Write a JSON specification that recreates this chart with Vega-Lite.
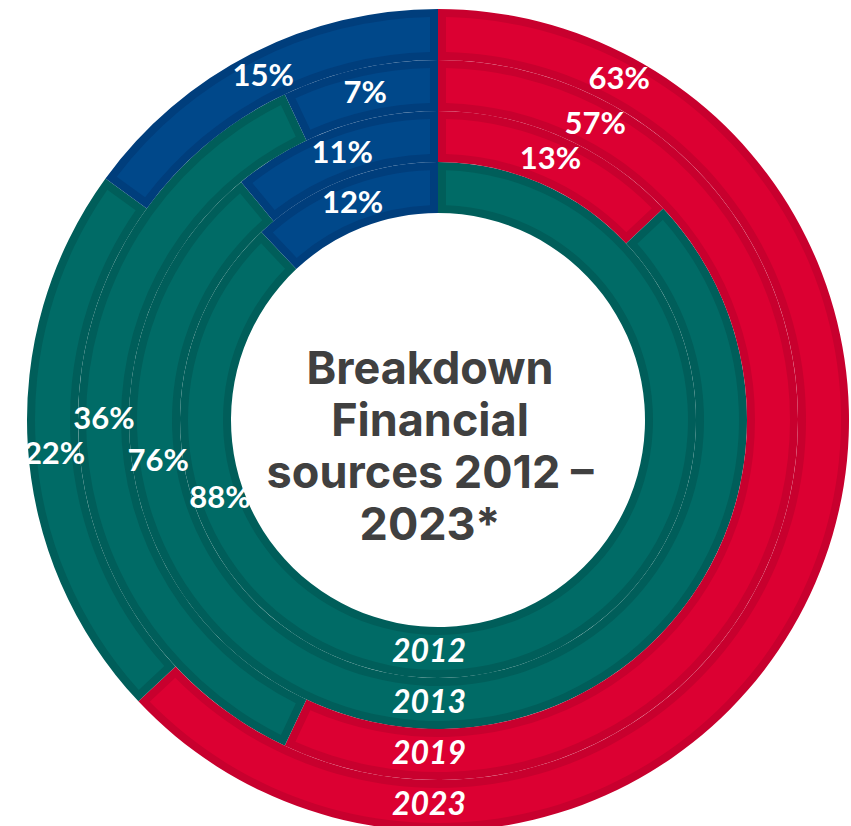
{
  "$schema": "https://vega.github.io/schema/vega-lite/v6.json",
  "width": 826,
  "height": 812,
  "autosize": "none",
  "padding": {"left": 25, "top": 14, "right": 0, "bottom": 0},
  "background": "white",
  "config": {"view": {"stroke": null}},
  "data": {
    "values": [
      {"year": 2012, "source": "A", "value": 0.00},
      {"year": 2012, "source": "B", "value": 0.88},
      {"year": 2012, "source": "C", "value": 0.12},
      {"year": 2013, "source": "A", "value": 0.13},
      {"year": 2013, "source": "B", "value": 0.76},
      {"year": 2013, "source": "C", "value": 0.11},
      {"year": 2019, "source": "A", "value": 0.57},
      {"year": 2019, "source": "B", "value": 0.36},
      {"year": 2019, "source": "C", "value": 0.07},
      {"year": 2023, "source": "A", "value": 0.63},
      {"year": 2023, "source": "B", "value": 0.22},
      {"year": 2023, "source": "C", "value": 0.15}
    ]
  },
  "resolve": {"scale": {"color": "independent"}},
  "layer": [
    {
      "transform": [{"filter": "datum.year == 2012"}],
      "layer": [
        {"mark": {"type": "arc", "radius": 258, "radius2": 207},
         "encoding": {
           "theta": {"field": "value", "type": "quantitative", "stack": true, "scale": {"domain": [0, 1]}},
           "order": {"field": "source"},
           "color": {"field": "source", "type": "nominal", "scale": {"domain": ["A", "B", "C"], "range": ["#C8002E", "#005E5A", "#003E7C"]}, "legend": null}}},
        {"mark": {"type": "arc", "radius": 250, "radius2": 215, "padAngle": 0.0485},
         "encoding": {
           "theta": {"field": "value", "type": "quantitative", "stack": true, "scale": {"domain": [0, 1]}},
           "order": {"field": "source"},
           "fill": {"field": "source", "type": "nominal", "scale": {"domain": ["A", "B", "C"], "range": ["#DC0032", "#006B66", "#00488A"]}, "legend": null}}}
      ]
    },
    {
      "transform": [{"filter": "datum.year == 2013"}],
      "layer": [
        {"mark": {"type": "arc", "radius": 309, "radius2": 258},
         "encoding": {
           "theta": {"field": "value", "type": "quantitative", "stack": true, "scale": {"domain": [0, 1]}},
           "order": {"field": "source"},
           "color": {"field": "source", "type": "nominal", "scale": {"domain": ["A", "B", "C"], "range": ["#C8002E", "#005E5A", "#003E7C"]}, "legend": null}}},
        {"mark": {"type": "arc", "radius": 301, "radius2": 266, "padAngle": 0.0398},
         "encoding": {
           "theta": {"field": "value", "type": "quantitative", "stack": true, "scale": {"domain": [0, 1]}},
           "order": {"field": "source"},
           "fill": {"field": "source", "type": "nominal", "scale": {"domain": ["A", "B", "C"], "range": ["#DC0032", "#006B66", "#00488A"]}, "legend": null}}}
      ]
    },
    {
      "transform": [{"filter": "datum.year == 2019"}],
      "layer": [
        {"mark": {"type": "arc", "radius": 360, "radius2": 309},
         "encoding": {
           "theta": {"field": "value", "type": "quantitative", "stack": true, "scale": {"domain": [0, 1]}},
           "order": {"field": "source"},
           "color": {"field": "source", "type": "nominal", "scale": {"domain": ["A", "B", "C"], "range": ["#C8002E", "#005E5A", "#003E7C"]}, "legend": null}}},
        {"mark": {"type": "arc", "radius": 352, "radius2": 317, "padAngle": 0.0338},
         "encoding": {
           "theta": {"field": "value", "type": "quantitative", "stack": true, "scale": {"domain": [0, 1]}},
           "order": {"field": "source"},
           "fill": {"field": "source", "type": "nominal", "scale": {"domain": ["A", "B", "C"], "range": ["#DC0032", "#006B66", "#00488A"]}, "legend": null}}}
      ]
    },
    {
      "transform": [{"filter": "datum.year == 2023"}],
      "layer": [
        {"mark": {"type": "arc", "radius": 411, "radius2": 360},
         "encoding": {
           "theta": {"field": "value", "type": "quantitative", "stack": true, "scale": {"domain": [0, 1]}},
           "order": {"field": "source"},
           "color": {"field": "source", "type": "nominal", "scale": {"domain": ["A", "B", "C"], "range": ["#C8002E", "#005E5A", "#003E7C"]}, "legend": null}}},
        {"mark": {"type": "arc", "radius": 403, "radius2": 368, "padAngle": 0.0293},
         "encoding": {
           "theta": {"field": "value", "type": "quantitative", "stack": true, "scale": {"domain": [0, 1]}},
           "order": {"field": "source"},
           "fill": {"field": "source", "type": "nominal", "scale": {"domain": ["A", "B", "C"], "range": ["#DC0032", "#006B66", "#00488A"]}, "legend": null}}}
      ]
    },
    {
      "mark": {"type": "text", "font": "Lato", "fontSize": 31, "fontWeight": "bold", "fill": "white", "align": "center", "baseline": "middle"},
      "encoding": {
        "theta": {"field": "value", "type": "quantitative", "stack": true, "scale": {"domain": [0, 1]}},
        "radius": {"field": "year", "type": "ordinal", "scale": {"type": "point", "range": [232, 385], "padding": 0}},
        "order": {"field": "source"},
        "detail": {"field": "source"},
        "text": {"field": "value", "type": "quantitative", "format": ".0%"},
        "opacity": {"condition": {"test": "datum.value > 0 && datum.value < 0.5 && !(datum.source == 'B' && datum.year == 2023)", "value": 1}, "value": 0}
      }
    },
    {
      "transform": [
        {"stack": "value", "groupby": ["year"], "sort": [{"field": "source"}], "as": ["t0", "t1"]},
        {"filter": "datum.source == 'A' && datum.value >= 0.5"}
      ],
      "mark": {"type": "text", "font": "Lato", "fontSize": 31, "fontWeight": "bold", "fill": "white", "align": "center", "baseline": "middle", "thetaOffset": 0.49},
      "encoding": {
        "theta": {"field": "t0", "type": "quantitative", "scale": {"domain": [0, 1]}},
        "radius": {"field": "year", "type": "ordinal", "scale": {"type": "point", "range": [232, 385], "padding": 0}},
        "text": {"field": "value", "type": "quantitative", "format": ".0%"}
      }
    },
    {
      "transform": [
        {"stack": "value", "groupby": ["year"], "sort": [{"field": "source"}], "as": ["t0", "t1"]},
        {"filter": "datum.source == 'B' && datum.year == 2023"}
      ],
      "mark": {"type": "text", "font": "Lato", "fontSize": 31, "fontWeight": "bold", "fill": "white", "align": "center", "baseline": "middle", "thetaOffset": -0.719},
      "encoding": {
        "theta": {"field": "t1", "type": "quantitative", "scale": {"domain": [0, 1]}},
        "radius": {"field": "year", "type": "ordinal", "scale": {"type": "point", "range": [232, 385], "padding": 0}},
        "text": {"field": "value", "type": "quantitative", "format": ".0%"}
      }
    },
    {
      "transform": [
        {"stack": "value", "groupby": ["year"], "sort": [{"field": "source"}], "as": ["t0", "t1"]},
        {"filter": "datum.source == 'B' && datum.year == 2013"}
      ],
      "mark": {"type": "text", "font": "Lato", "fontSize": 31, "fontWeight": "bold", "fill": "white", "align": "center", "baseline": "middle", "thetaOffset": -1.03},
      "encoding": {
        "theta": {"field": "t1", "type": "quantitative", "scale": {"domain": [0, 1]}},
        "radius": {"field": "year", "type": "ordinal", "scale": {"type": "point", "range": [232, 385], "padding": 0}},
        "text": {"field": "value", "type": "quantitative", "format": ".0%"}
      }
    },
    {
      "transform": [
        {"stack": "value", "groupby": ["year"], "sort": [{"field": "source"}], "as": ["t0", "t1"]},
        {"filter": "datum.source == 'B' && datum.year == 2012"}
      ],
      "mark": {"type": "text", "font": "Lato", "fontSize": 31, "fontWeight": "bold", "fill": "white", "align": "center", "baseline": "middle", "thetaOffset": -1.165},
      "encoding": {
        "theta": {"field": "t1", "type": "quantitative", "scale": {"domain": [0, 1]}},
        "radius": {"field": "year", "type": "ordinal", "scale": {"type": "point", "range": [232, 385], "padding": 0}},
        "text": {"field": "value", "type": "quantitative", "format": ".0%"}
      }
    },
    {
      "transform": [{"filter": "datum.source == 'C'"}],
      "mark": {"type": "text", "font": "Lato", "fontSize": 32, "fontWeight": "bold", "fontStyle": "italic", "fill": "white", "align": "center", "baseline": "middle", "dx": -9},
      "encoding": {
        "theta": {"value": 3.14159},
        "radius": {"field": "year", "type": "ordinal", "scale": {"type": "point", "range": [232, 385], "padding": 0}},
        "text": {"field": "year", "type": "ordinal"}
      }
    },
    {
      "data": {"values": [{"title": "Breakdown\nFinancial\nsources 2012 –\n2023*"}]},
      "mark": {"type": "text", "font": "Inter", "fontSize": 45, "fontWeight": "bold", "fill": "#404040", "align": "center", "baseline": "middle", "lineBreak": "\n", "lineHeight": 52, "dy": -50, "dx": -8},
      "encoding": {
        "text": {"field": "title", "type": "nominal"}
      }
    }
  ]
}
